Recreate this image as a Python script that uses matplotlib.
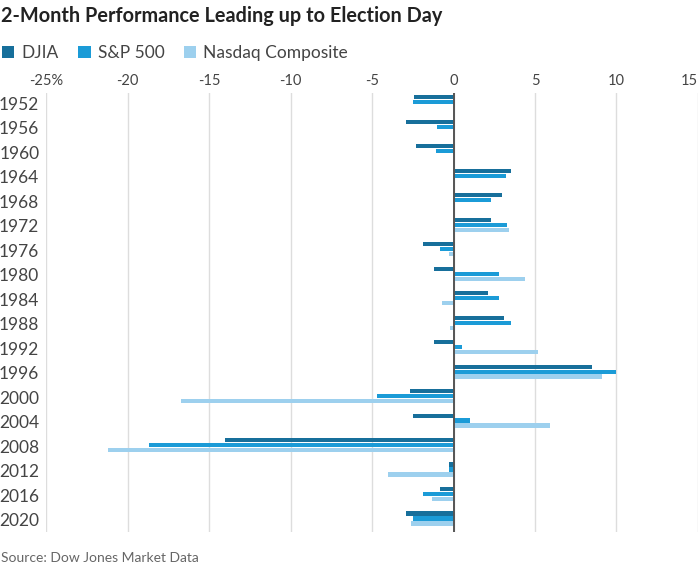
import numpy as np
import matplotlib.pyplot as plt
from matplotlib.patches import Patch

plt.rcParams['font.family'] = ['Lato', 'DejaVu Sans']

years = [1952, 1956, 1960, 1964, 1968, 1972, 1976, 1980, 1984, 1988,
         1992, 1996, 2000, 2004, 2008, 2012, 2016, 2020]
djia = [-2.4, -2.9, -2.3, 3.5, 3.0, 2.3, -1.9, -1.2, 2.1, 3.1,
        -1.2, 8.5, -2.7, -2.5, -14.0, -0.3, -0.8, -2.9]
sp500 = [-2.5, -1.0, -1.1, 3.2, 2.3, 3.3, -0.8, 2.8, 2.8, 3.5,
         0.5, 10.0, -4.7, 1.0, -18.7, -0.3, -1.9, -2.5]
nasdaq = [np.nan, np.nan, np.nan, np.nan, np.nan, 3.4, -0.3, 4.4, -0.7, -0.2,
          5.2, 9.1, -16.7, 5.9, -21.2, -4.0, -1.3, -2.6]

series_names = ['DJIA', 'S&P 500', 'Nasdaq Composite']
colors = ['#176f9b', '#1b9bd7', '#9dd0ee']
x_ticks = [-25, -20, -15, -10, -5, 0, 5, 10, 15]
x_tick_labels = ['-25%', '-20', '-15', '-10', '-5', '0', '5', '10', '15']

fig = plt.figure(figsize=(7, 5.65), dpi=100)
ax = fig.add_axes([0.066, 0.058, 0.931, 0.777])

pos = np.arange(len(years))
step = 0.204
h = 0.165
for i, vals in enumerate([djia, sp500, nasdaq]):
    ax.barh(pos + (i - 1) * step, vals, height=h, color=colors[i], zorder=3)

ax.set_xlim(-25, 15)
ax.set_ylim(len(years) - 0.44, -0.36)
ax.set_yticks(pos + 0.05)
ax.set_yticklabels([str(y) for y in years], fontsize=12.5, color='#444444')
ax.set_xticks(x_ticks)
ax.set_xticklabels(x_tick_labels, fontsize=10.5, color='#444444')
ax.xaxis.tick_top()
ax.tick_params(axis='both', length=0)
ax.tick_params(axis='x', pad=4)
ax.tick_params(axis='y', pad=5)
ax.get_xticklabels()[-1].set_ha('right')
ax.grid(axis='x', color='#dddddd', linewidth=1, zorder=0)
ax.axvline(0, color='#555555', linewidth=1.4, zorder=4)
for s in ax.spines.values():
    s.set_visible(False)

fig.text(0.002, 0.972, '2-Month Performance Leading up to Election Day',
         fontsize=14.3, fontweight='bold', color='#222222', va='center')

handles = [Patch(facecolor=c, edgecolor='none') for c in colors]
fig.legend(handles, series_names, loc='center left', bbox_to_anchor=(0.003, 0.906),
           ncol=3, frameon=False, fontsize=12.5, handlelength=0.7, handleheight=0.7,
           handletextpad=0.4, columnspacing=1.15, borderpad=0, borderaxespad=0,
           labelcolor='#444444')

fig.text(0.002, 0.006, 'Source: Dow Jones Market Data', fontsize=10, color='#666666')

plt.savefig('out.png', dpi=100)
